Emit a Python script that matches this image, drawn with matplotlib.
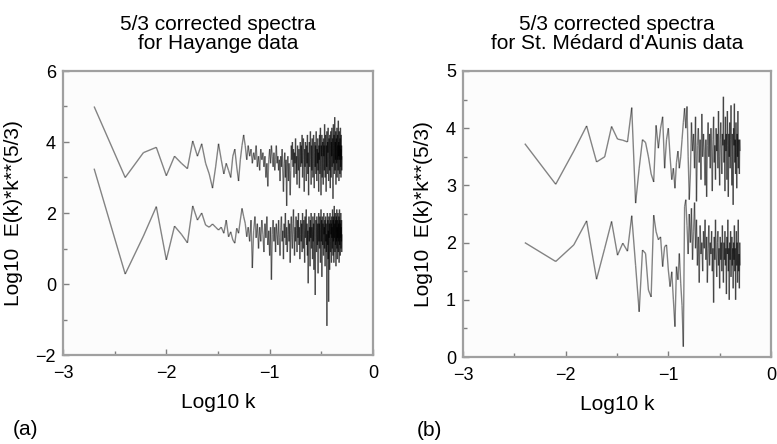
import numpy as np
import matplotlib
matplotlib.use("Agg")
import matplotlib.pyplot as plt
from matplotlib.collections import LineCollection
from matplotlib.ticker import MultipleLocator

plt.rcParams['font.family'] = ['Liberation Sans', 'DejaVu Sans']

# ---------------- data ----------------
# Panel (a): Hayange, k = n/500, n = 1..250
N_a = 500
hay_upper = [5.0, 3.0, 3.7, 3.85, 3.05, 3.6, 3.4, 3.25, 4.03, 3.6, 3.95, 3.4, 3.1, 2.7, 3.3,
             3.95, 3.5, 3.1, 3.4, 3.2, 3.0, 3.6, 3.8, 3.3, 2.9, 3.5, 3.9, 4.2, 3.9, 3.5,
             3.9, 3.6, 3.8, 3.4, 3.7, 3.5, 3.9, 3.3, 3.6, 3.2, 3.8, 3.5, 3.7, 3.3, 3.6,
             3.0, 3.4, 2.75, 3.5, 3.8, 3.4, 3.9, 3.6, 3.3, 3.7, 3.2, 3.5, 3.9, 3.4, 3.6,
             3.2, 3.5, 2.9, 3.6, 3.3, 3.8, 3.1, 2.6, 3.4, 3.7, 3.0, 3.5, 2.2, 3.3, 3.6,
             2.9, 3.4, 3.1, 2.5, 3.2, 3.9, 3.5, 4.0, 3.3, 3.8, 3.0, 3.7, 3.4, 4.1, 3.1,
             3.6, 2.8, 3.9, 3.5, 3.2, 3.8, 2.7, 3.6, 4.0, 3.3,
             3.9, 3.4, 4.2, 3.0, 3.7, 4.1, 3.5, 2.6, 3.8, 3.3, 4.0, 3.6, 2.9, 3.9, 3.4,
             4.2, 3.1, 3.7, 2.5, 3.6, 4.0, 3.3, 3.8, 4.3, 3.5, 2.8, 3.9, 3.2, 4.1, 3.6,
             3.0, 3.8, 4.2, 3.4, 2.7, 3.7, 4.0, 3.3, 3.9, 3.1, 4.3, 3.6, 2.9, 3.8, 3.4,
             4.1, 3.2, 3.7, 2.6, 3.9,
             3.5, 4.2, 3.1, 3.8, 4.4, 3.3, 2.5, 3.9, 3.6, 4.2, 3.0, 3.7, 4.0, 3.4, 2.8,
             4.1, 3.6, 3.9, 3.2, 4.5, 3.7, 3.0, 3.8, 4.2, 3.5, 2.6, 3.9, 3.3, 4.3, 3.6,
             3.1, 4.0, 3.7, 4.4, 3.4, 2.9, 3.8, 4.1, 3.5, 3.2, 4.2, 3.7, 2.7, 3.9, 4.3,
             3.5, 3.0, 4.0, 3.6, 4.4,
             3.3, 3.8, 4.1, 3.6, 2.4, 3.9, 4.5, 3.4, 3.7, 4.2, 3.1, 3.8, 4.7, 3.6, 3.2,
             4.0, 3.5, 4.3, 2.8, 3.9, 4.1, 3.4, 3.7, 4.4, 3.0, 3.8, 4.2, 3.5, 3.9, 3.2,
             4.6, 3.6, 4.0, 2.9, 3.7, 4.3, 3.5, 3.9, 3.1, 4.1, 3.6, 4.4, 3.3, 3.8, 3.0,
             4.2, 3.5, 3.9, 3.2, 3.6]
hay_lower = [3.25, 0.28, 1.35, 2.18, 0.68, 1.63, 1.4, 1.16, 2.2, 1.8, 2.0, 1.66, 1.6, 1.69, 1.6,
             1.52, 1.6, 1.43, 1.8, 1.33, 1.47, 1.24, 1.15, 1.57, 1.43, 1.8, 2.13, 1.9, 1.71, 1.33,
             1.6, 1.2, 1.8, 0.45, 1.5, 1.9, 1.3, 1.7, 1.0, 1.6, 1.2, 1.8, 1.4, 0.9, 1.7,
             1.3, 1.9, 1.1, 1.5, 0.8, 1.6, 0.12, 1.4, 1.8, 1.2, 1.6, 0.9, 1.7, 1.4, 1.1,
             1.8, 1.3, 0.8, 1.6, 1.9, 1.2, 1.5, 0.7, 1.7, 1.3, 2.0, 1.1, 1.6, 0.9, 1.4,
             1.8, 1.2, 1.7, 0.6, 1.5, 1.9, 1.3, 1.0, 1.7, 2.1, 1.4, 0.8, 1.6, 1.2, 1.9,
             1.5, 0.9, 1.8, 1.3, 2.0, 1.1, 1.6, 0.7, 1.4, 1.8,
             1.2, 1.7, 0.9, 2.0, 1.4, 1.0, 1.8, 1.5, 0.6, 1.9, 1.3, 1.6, 2.1, 1.1, 1.7,
             0.8, 1.5, 0.02, 1.4, 1.9, 1.2, 1.6, 0.5, 1.8, 1.3, 2.0, 1.0, 1.6, 1.4, 0.7,
             1.9, 1.2, 1.7, 0.4, 1.5, 2.0, 1.1, -0.31, 1.3, 1.8, 1.6, 0.9, 1.9, 1.4, 1.1,
             1.7, 0.3, 1.5, 2.0, 1.2,
             1.7, 1.0, 1.9, 1.4, 0.6, 1.6, 2.1, 1.2, 1.8, 0.2, 1.5, 1.9, 1.1, 1.7, 1.3,
             0.8, 2.0, 1.4, 1.6, 1.0, 1.8, 0.5, 1.5, 1.9, 1.2, 1.7, 0.9, 1.4, -1.18, 1.6,
             2.0, 1.1, 1.8, 0.7, 1.5, -0.5, 1.9, 1.3, 1.7, 0.4, 1.6, 2.0, 1.2, 0.9, 1.8,
             1.4, 1.7, 0.6, 1.9, 1.3,
             1.6, 1.0, 2.1, 1.4, 0.8, 1.8, 1.2, 1.9, 0.6, 1.5, 2.2, 1.3, 1.7, 0.9, 1.6,
             2.0, 1.1, 1.8, 0.5, 1.4, 1.9, 1.2, 2.1, 1.0, 1.6, 0.7, 1.8, 1.3, 2.0, 1.5,
             0.9, 1.7, 1.2, 1.9, 0.6, 1.5, 2.1, 1.1, 1.8, 1.4, 0.8, 1.7, 1.3, 2.0, 1.0,
             1.6, 1.2, 1.8, 0.9, 1.4]

# Panel (b): St. Médard d'Aunis, k = n/250, n = 1..125
N_b = 250
med_upper = [3.73, 3.02, 3.6, 4.04, 3.41, 3.5, 4.03, 3.81, 3.79, 3.76, 4.36, 2.69, 3.3, 3.8, 3.75,
             3.5, 3.2, 3.06, 4.05, 3.65, 4.0, 4.2, 3.3, 3.8, 4.0, 3.5, 3.1, 3.3, 2.95, 3.4,
             3.6, 3.3, 3.5, 3.8, 4.1, 4.35, 4.0, 4.38, 3.5, 2.75,
             3.2, 4.1, 3.6, 3.9, 3.3, 4.2, 2.72, 3.7, 4.0, 3.4, 3.8, 3.1, 4.25, 3.5, 3.9,
             3.6, 3.0, 3.8, 2.8, 3.7, 4.1, 3.5, 3.9, 3.3, 4.0, 3.6, 2.9, 3.8, 4.2, 3.4,
             3.7, 3.1, 4.0, 3.6, 3.9, 3.3, 4.3, 3.5, 3.0, 3.8, 4.1, 3.6, 3.2, 3.9, 3.7,
             4.55, 3.4, 3.8, 2.9, 4.2, 3.6, 3.9, 3.1, 4.3, 3.7, 2.8, 3.9, 3.5, 4.1, 3.3,
             3.8, 4.4, 3.5, 3.0, 3.9, 3.6, 2.66, 4.0, 3.7, 4.43, 3.4, 3.8, 3.2, 4.1, 3.6,
             2.95, 3.9, 3.5, 4.3, 3.3, 3.8, 3.6, 3.2, 3.8, 3.6]
med_lower = [2.0, 1.67, 1.96, 2.38, 1.36, 1.9, 2.37, 1.78, 1.99, 1.85, 2.47, 1.6, 0.79, 1.87, 1.81,
             1.17, 1.05, 2.48, 2.19, 2.05, 2.1, 1.58, 1.93, 1.96, 1.52, 1.23, 1.49, 1.0, 0.53, 1.58,
             1.35, 1.81, 1.29, 0.9, 0.18, 2.63, 2.75,
             2.3, 1.8, 2.5, 2.0, 2.6, 1.7, 2.2, 2.7, 1.9, 2.4, 1.6, 2.1, 1.3, 2.3, 1.8,
             2.0, 1.5, 2.2, 1.9, 2.4, 1.7, 2.1, 1.3, 1.9, 2.3, 1.6, 2.0, 1.8, 2.2, 1.5,
             1.9, 0.95, 2.1, 1.7, 2.4, 1.8, 1.4, 2.0, 2.2, 1.6, 1.9, 1.2, 2.1, 1.7, 2.0,
             1.5, 2.3, 1.8, 1.3, 2.0, 1.7, 2.2, 1.6, 1.9, 1.1, 2.1, 1.8, 2.4, 1.5, 1.9,
             1.0, 2.0, 1.7, 2.2, 1.4, 1.8, 2.1, 1.6, 1.9, 1.2, 2.0, 1.7, 2.3, 1.5, 1.9,
             1.0, 1.8, 2.2, 1.6, 2.0, 1.3, 1.9, 2.4, 1.5, 1.8, 1.2, 2.0, 1.6]

titles = ["5/3 corrected spectra\nfor Hayange data",
          "5/3 corrected spectra\nfor St. Médard d'Aunis data"]
panel_tags = ["(a)", "(b)"]
xlabel = "Log10 k"
ylabel = "Log10  E(k)*k**(5/3)"

# ---------------- figure ----------------
W, H = 777, 444
fig = plt.figure(figsize=(W / 100, H / 100), dpi=100)

def axrect(l, r, t, b):
    return [l / W, 1 - b / H, (r - l) / W, (b - t) / H]

frame_col = '#a0a0a0'
line_kw = dict(colors='black', alpha=0.48, linewidths=1.0)

def draw_series(ax, y, N):
    y = np.asarray(y, dtype=float)
    n = np.arange(1, len(y) + 1)
    x = np.log10(n / N)
    pts = np.column_stack([x, y])
    segs = np.stack([pts[:-1], pts[1:]], axis=1)
    ax.add_collection(LineCollection(segs, **line_kw))

def style(ax, ylim, ymaj, ymin):
    ax.set_xlim(-3, 0)
    ax.set_ylim(*ylim)
    ax.xaxis.set_major_locator(MultipleLocator(1))
    ax.xaxis.set_minor_locator(MultipleLocator(0.5))
    ax.yaxis.set_major_locator(MultipleLocator(ymaj))
    ax.yaxis.set_minor_locator(MultipleLocator(ymin))
    ax.tick_params(which='both', direction='in', color='#808080', labelsize=13,
                   top=False, right=False)
    ax.tick_params(which='major', length=4, width=1)
    ax.tick_params(which='minor', length=3, width=1)
    ax.tick_params(axis='x', pad=7)
    ax.tick_params(axis='y', pad=5)
    for s in ax.spines.values():
        s.set_color(frame_col)
        s.set_linewidth(1.6)
    ax.set_facecolor('#fcfcfc')
    ax.set_xlabel(xlabel, fontsize=15, labelpad=8)
    ax.set_ylabel(ylabel, fontsize=15, labelpad=9)

axa = fig.add_axes(axrect(63, 373, 71, 355))
draw_series(axa, hay_upper, N_a)
draw_series(axa, hay_lower, N_a)
style(axa, (-2, 6), 2, 1)
axa.set_title(titles[0], fontsize=15, pad=15.5, linespacing=1.05)

axb = fig.add_axes(axrect(463, 771, 71, 357))
draw_series(axb, med_upper, N_b)
draw_series(axb, med_lower, N_b)
style(axb, (0, 5), 1, 0.5)
axb.set_title(titles[1], fontsize=15, pad=15.5, linespacing=1.05)

fig.text(13 / W, 1 - 429 / H, panel_tags[0], fontsize=15, va='center', ha='left')
fig.text(417 / W, 1 - 430 / H, panel_tags[1], fontsize=15, va='center', ha='left')

fig.savefig("out.png", dpi=100, facecolor='white')
